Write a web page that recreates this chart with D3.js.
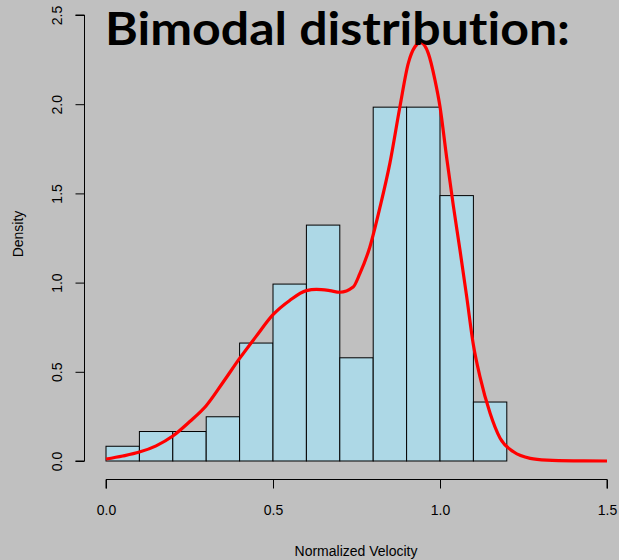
<!DOCTYPE html>
<html>
<head>
<meta charset="utf-8">
<script src="https://cdn.jsdelivr.net/npm/d3@7"></script>
<style>
  html, body { margin: 0; padding: 0; background: #c0c0c0; }
  svg { display: block; }
</style>
</head>
<body>
<svg id="chart" width="619" height="560"></svg>
<script>
// Histogram bins (left edges) and densities
const binStarts = [0.0, 0.1, 0.2, 0.3, 0.4, 0.5, 0.6, 0.7, 0.8, 0.9, 1.0, 1.1];
const binWidth = 0.1;
const binCounts = [1, 2, 2, 3, 8, 12, 16, 7, 24, 24, 18, 4];
const nTotal = 121;
const binDensity = binCounts.map(c => c / (nTotal * binWidth));

// Kernel density curve
const densX = [0.00, 0.05, 0.10, 0.15, 0.20, 0.25, 0.30, 0.35, 0.40, 0.45, 0.50, 0.55, 0.60, 0.63, 0.67, 0.70, 0.74, 0.76, 0.79, 0.82, 0.85, 0.88, 0.905, 0.925, 0.942, 0.965, 0.985, 1.00, 1.02, 1.04, 1.06, 1.08, 1.10, 1.12, 1.15, 1.18, 1.22, 1.27, 1.32, 1.40, 1.50];
const densY = [0.011, 0.028, 0.050, 0.085, 0.140, 0.220, 0.310, 0.440, 0.575, 0.700, 0.820, 0.900, 0.955, 0.962, 0.955, 0.946, 0.975, 1.050, 1.200, 1.420, 1.670, 1.986, 2.229, 2.322, 2.345, 2.285, 2.135, 1.986, 1.700, 1.430, 1.180, 0.920, 0.650, 0.470, 0.267, 0.127, 0.052, 0.015, 0.005, 0.001, 0.000];

const xTicks = [0.0, 0.5, 1.0, 1.5];
const yTicks = [0.0, 0.5, 1.0, 1.5, 2.0, 2.5];
const titleText = "Bimodal distribution:";
const xLabel = "Normalized Velocity";
const yLabel = "Density";

const svg = d3.select("#chart");
svg.append("rect").attr("width", 619).attr("height", 560).attr("fill", "#c0c0c0");

const x = d3.scaleLinear().domain([0, 1.5]).range([106, 607]);
const y = d3.scaleLinear().domain([0, 2.5]).range([461, 15]);

// Bars
svg.append("g").selectAll("rect")
  .data(binStarts.map((s, i) => ({ s, d: binDensity[i] })))
  .join("rect")
  .attr("x", d => x(d.s))
  .attr("y", d => y(d.d))
  .attr("width", d => x(d.s + binWidth) - x(d.s))
  .attr("height", d => y(0) - y(d.d))
  .attr("fill", "#add8e6")
  .attr("stroke", "#000")
  .attr("stroke-width", 1);

// Density line
const line = d3.line()
  .x(d => x(d[0]))
  .y(d => y(d[1]))
  .curve(d3.curveMonotoneX);
svg.append("path")
  .datum(densX.map((v, i) => [v, densY[i]]))
  .attr("d", line)
  .attr("fill", "none")
  .attr("stroke", "#ff0000")
  .attr("stroke-width", 3.2)
  .attr("stroke-linejoin", "round");

// X axis
const xAxis = svg.append("g")
  .attr("transform", "translate(0,479.5)")
  .call(d3.axisBottom(x).tickValues(xTicks).tickSize(9).tickPadding(17).tickFormat(d3.format(".1f")));
xAxis.selectAll("path, line").attr("stroke", "#000");
xAxis.select(".domain").attr("d", `M${x(0)},9V0H${x(1.5)}V9`);
xAxis.selectAll("text")
  .attr("font-family", "Liberation Sans, Arial, sans-serif")
  .attr("font-size", 14)
  .attr("fill", "#000");

// Y axis
const yAxis = svg.append("g")
  .attr("transform", "translate(84.5,0)")
  .call(d3.axisLeft(y).tickValues(yTicks).tickSize(9).tickPadding(0).tickFormat(d3.format(".1f")));
yAxis.selectAll("path, line").attr("stroke", "#000");
yAxis.select(".domain").attr("d", `M-9,${y(0)}H0V${y(2.5)}H-9`);
yAxis.selectAll("text")
  .attr("font-family", "Liberation Sans, Arial, sans-serif")
  .attr("font-size", 14)
  .attr("fill", "#000")
  .attr("text-anchor", "middle")
  .attr("dy", null)
  .attr("x", null)
  .attr("transform", "translate(-28,0) rotate(-90)")
  .attr("dominant-baseline", "central");

// Axis titles
svg.append("text")
  .attr("x", 356).attr("y", 556)
  .attr("text-anchor", "middle")
  .attr("font-family", "Liberation Sans, Arial, sans-serif")
  .attr("font-size", 14)
  .attr("fill", "#000")
  .text(xLabel);

svg.append("text")
  .attr("transform", "translate(23,234) rotate(-90)")
  .attr("text-anchor", "middle")
  .attr("font-family", "Liberation Sans, Arial, sans-serif")
  .attr("font-size", 14)
  .attr("fill", "#000")
  .text(yLabel);

// Title
svg.append("text")
  .attr("x", 105).attr("y", 45)
  .attr("font-family", "Lato, 'Open Sans', sans-serif")
  .attr("font-weight", 700)
  .attr("font-size", 45.5)
  .attr("fill", "#000")
  .style("font-variant-ligatures", "none")
  .style("font-feature-settings", "'liga' 0, 'clig' 0, 'dlig' 0, 'calt' 0")
  .attr("textLength", 465)
  .attr("lengthAdjust", "spacingAndGlyphs")
  .text(titleText);
</script>
</body>
</html>
